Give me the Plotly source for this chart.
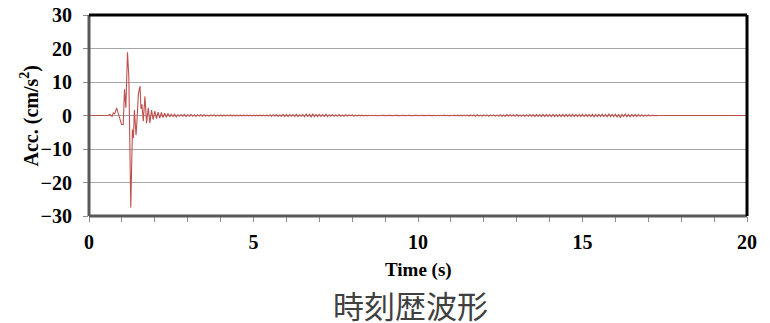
import plotly.graph_objects as go

# Early strong-motion part: explicit (time, acceleration) pairs
t_early = [0.0, 0.58, 0.64, 0.70, 0.74, 0.78, 0.84, 0.88, 0.92, 0.96, 0.99, 1.04, 1.08, 1.12,
           1.17, 1.21, 1.27, 1.32, 1.35, 1.38, 1.43, 1.47, 1.50, 1.55, 1.58, 1.61, 1.65, 1.70,
           1.75, 1.80, 1.85, 1.90, 1.95, 2.00, 2.05, 2.10, 2.15, 2.20, 2.25, 2.30, 2.35, 2.40, 2.45]
a_early = [0.0, 0.0, 0.3, -0.3, 0.8, 0.5, 2.3, 1.0, 0.3, -1.5, -2.7, -2.7, 7.8, 2.3,
           18.9, 11.7, -27.5, -4.2, -6.7, 1.6, -5.9, 0.5, 6.3, 8.8, 2.0, 3.3, -1.7, 5.7,
           -2.3, 2.3, -2.2, 1.6, -1.2, 1.3, -0.9, 1.0, -0.8, 0.9, -0.6, 0.7, -0.5, 0.6, -0.4]

# Coda part: samples every 0.05 s from 2.50 s to 17.45 s (one row per second)
coda_start = 2.5
coda_dt = 0.05
a_coda = [
    0.4, -0.3, 0.35, -0.4, 0.2, -0.25, 0.3, -0.2, 0.35, -0.3, 0.25, -0.2, 0.3, -0.25, 0.2, -0.3, 0.25, -0.15, 0.2, -0.25,
    0.2, -0.15, 0.1, -0.2, 0.15, -0.1, 0.2, -0.15, 0.1, -0.1, 0.15, -0.2, 0.1, -0.1, 0.15, -0.1, 0.2, -0.15, 0.1, -0.1,
    0.1, -0.15, 0.1, -0.1, 0.15, -0.1, 0.1, -0.1, 0.1, -0.15, 0.1, -0.1, 0.15, -0.1, 0.1, -0.1, 0.1, -0.15, 0.1, -0.1,
    0.15, -0.2, 0.25, -0.15, 0.3, -0.3, 0.2, -0.25, 0.35, -0.3, 0.3, -0.35, 0.25, -0.2, 0.3, -0.3, 0.4, -0.3, 0.25, -0.2,
    0.3, -0.35, 0.45, -0.3, 0.35, -0.4, 0.5, -0.35, 0.3, -0.3, 0.35, -0.25, 0.3, -0.3, 0.4, -0.3, 0.25, -0.2, 0.3, -0.25,
    0.2, -0.25, 0.3, -0.2, 0.15, -0.2, 0.25, -0.15, 0.2, -0.1, 0.15, -0.2, 0.1, -0.15, 0.1, -0.1, 0.1, -0.1, 0.05, -0.1,
    0.05, -0.05, 0.08, -0.05, 0.05, -0.05, 0.05, -0.08, 0.05, -0.05, 0.05, -0.05, 0.05, -0.05, 0.05, -0.05, 0.05, -0.05, 0.05, -0.05,
    0.05, -0.05, 0.05, -0.05, 0.05, -0.05, 0.05, -0.05, 0.05, -0.05, 0.05, -0.05, 0.05, -0.05, 0.05, -0.05, 0.05, -0.05, 0.05, -0.05,
    0.05, -0.08, 0.05, -0.05, 0.08, -0.05, 0.1, -0.08, 0.05, -0.1, 0.08, -0.05, 0.1, -0.08, 0.1, -0.12, 0.1, -0.12, 0.12, -0.1,
    0.12, -0.15, 0.2, -0.12, 0.15, -0.2, 0.25, -0.15, 0.12, -0.2, 0.15, -0.12, 0.2, -0.25, 0.15, -0.12, 0.2, -0.15, 0.12, -0.2,
    0.2, -0.25, 0.15, -0.2, 0.3, -0.2, 0.25, -0.15, 0.2, -0.25, 0.3, -0.2, 0.15, -0.25, 0.2, -0.3, 0.25, -0.2, 0.3, -0.25,
    0.25, -0.3, 0.35, -0.25, 0.3, -0.35, 0.3, -0.3, 0.35, -0.25, 0.3, -0.3, 0.35, -0.3, 0.25, -0.3, 0.35, -0.3, 0.3, -0.35,
    0.3, -0.35, 0.3, -0.3, 0.4, -0.3, 0.35, -0.3, 0.3, -0.35, 0.4, -0.3, 0.3, -0.35, 0.3, -0.3, 0.35, -0.4, 0.3, -0.3,
    0.35, -0.3, 0.4, -0.35, 0.3, -0.4, 0.45, -0.35, 0.3, -0.3, 0.35, -0.45, 0.4, -0.7, 0.35, -0.3, 0.45, -0.35, 0.3, -0.4,
    0.35, -0.3, 0.3, -0.35, 0.3, -0.25, 0.2, -0.25, 0.15, -0.2, 0.15, -0.1, 0.05, -0.05, 0.03, -0.03, 0.0, 0.0, 0.0, 0.0,
]

t_end = [20.0]
a_end = [0.0]

x_ticks = [0, 5, 10, 15, 20]
y_ticks = [-30, -20, -10, 0, 10, 20, 30]

chart_title = "時刻歴波形"
x_title = "Time (s)"
y_title = "Acc. (cm/s<sup>2</sup>)"

t_coda = [round(coda_start + i * coda_dt, 3) for i in range(len(a_coda))]
t_all = t_early + t_coda + t_end
a_all = a_early + a_coda + a_end

serif = "Liberation Serif"
fig = go.Figure()
fig.add_trace(go.Scatter(x=t_all, y=a_all, mode="lines",
                         line=dict(color="#C0504D", width=1.1), showlegend=False,
                         hoverinfo="skip"))

fig.update_layout(
    width=770, height=323,
    margin=dict(l=81, r=31, t=7, b=115, autoexpand=False),
    paper_bgcolor="white", plot_bgcolor="white",
    xaxis=dict(range=[0, 20], tickvals=x_ticks, ticks="outside", ticklen=5,
               tickcolor="#8c8c8c", showgrid=False, zeroline=False, showline=False,
               automargin=False, ticklabelstandoff=3, ticklabeloverflow="allow",
               tickfont=dict(family=serif, size=20, color="black", weight="bold"),
               minor=dict(dtick=1, ticks="outside", ticklen=5, tickcolor="#8c8c8c", showgrid=False)),
    yaxis=dict(range=[-30, 30], tickvals=y_ticks, ticks="outside", ticklen=5,
               tickcolor="#8c8c8c", showgrid=True, gridcolor="#a6a6a6", gridwidth=1,
               zeroline=False, showline=False, automargin=False, ticklabelstandoff=7,
               ticklabeloverflow="allow",
               tickfont=dict(family=serif, size=20, color="black", weight="bold")),
    shapes=[
        dict(type="line", xref="paper", yref="paper", x0=0, x1=0, y0=0, y1=1,
             line=dict(color="#595959", width=3)),
        dict(type="line", xref="paper", yref="paper", x0=0, x1=1, y0=0, y1=0,
             line=dict(color="#595959", width=3)),
        dict(type="line", xref="paper", yref="paper", x0=0, x1=1, y0=1, y1=1,
             line=dict(color="black", width=3)),
        dict(type="line", xref="paper", yref="paper", x0=1, x1=1, y0=0, y1=1,
             line=dict(color="black", width=3)),
    ],
    annotations=[
        dict(text=y_title, xref="paper", yref="paper", x=-0.0897, y=0.5, textangle=-90,
             xanchor="center", yanchor="middle",
             showarrow=False, font=dict(family=serif, size=20, color="black", weight="bold")),
        dict(text=x_title, xref="paper", yref="paper", x=0.5, y=-0.269,
             xanchor="center", yanchor="middle",
             showarrow=False, font=dict(family=serif, size=19, color="black", weight="bold")),
        dict(text=chart_title, xref="paper", yref="paper", x=0.488, y=-0.438,
             xanchor="center", yanchor="middle",
             showarrow=False, font=dict(family="Noto Sans CJK JP", size=31, color="#404040")),
    ],
)

fig.write_html("out.html")
